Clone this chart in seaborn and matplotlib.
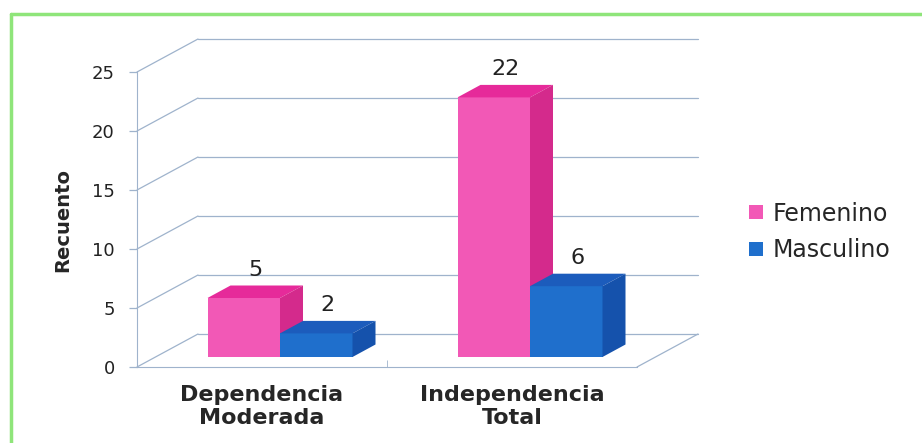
import pandas as pd
import matplotlib.pyplot as plt
import seaborn as sns
from matplotlib.patches import Polygon, Patch
from matplotlib.lines import Line2D
from matplotlib.transforms import ScaledTranslation

# -------------------------------
# Data
# -------------------------------
categorias = ["Dependencia\nModerada", "Independencia\nTotal"]
sexos = ["Femenino", "Masculino"]
femenino = [5, 22]
masculino = [2, 6]

df = pd.DataFrame({
    "Categoria": categorias * 2,
    "Sexo": [sexos[0]] * 2 + [sexos[1]] * 2,
    "Recuento": femenino + masculino,
})

colores = {"Femenino": "#f258b6", "Masculino": "#1f6fcc"}
top_col = {"Femenino": "#e62a9a", "Masculino": "#1c5cbc"}
side_col = {"Femenino": "#d42a8c", "Masculino": "#1552ac"}

sns.set_style("white")
plt.rcParams["font.family"] = ["DejaVu Sans"]

W, H = 922, 443
fig = plt.figure(figsize=(W / 100, H / 100), dpi=100)

# axes = front plane of the 3D box (pixel layout)
ax_l, ax_r, ax_b, ax_t = 137, 637, 367, 72
ax = fig.add_axes([ax_l / W, (H - ax_b) / H, (ax_r - ax_l) / W, (ax_b - ax_t) / H])

px_x = (ax_r - ax_l) / 2.0   # pixels per x unit
px_y = (ax_b - ax_t) / 25.0  # pixels per y unit

# back wall offset and bar depth (pixels -> data)
wall_dx, wall_dy = 61 / px_x, 33 / px_y
bar_dx, bar_dy = 23 / px_x, 12.5 / px_y
grid_col = "#9fb3cc"

# -------------------------------
# Back wall grid + floor
# -------------------------------
for v in range(0, 26, 5):
    ax.plot([-0.5 + wall_dx, 1.5 + wall_dx], [v + wall_dy, v + wall_dy],
            color=grid_col, lw=0.9, clip_on=False, zorder=0)
    ax.plot([-0.5, -0.5 + wall_dx], [v, v + wall_dy],
            color=grid_col, lw=0.9, clip_on=False, zorder=0)
ax.plot([1.5, 1.5 + wall_dx], [0, wall_dy], color=grid_col, lw=0.9, clip_on=False, zorder=0)

# -------------------------------
# Bars
# -------------------------------
sns.barplot(data=df, x="Categoria", y="Recuento", hue="Sexo", hue_order=sexos,
            order=categorias, palette=colores, saturation=1, width=0.58,
            legend=False, ax=ax, zorder=2)
ax.set_xlim(-0.5, 1.5)
ax.set_ylim(0, 25)

# bars sit a bit into the depth of the box
shift = ScaledTranslation(18 / 100, 10 / 100, fig.dpi_scale_trans)
tr = ax.transData + shift

bars = []
for cont, sexo in zip(ax.containers, sexos):
    for p in cont.patches:
        bars.append((p, sexo))
bars.sort(key=lambda b: b[0].get_x())

z = 2
for p, sexo in bars:
    x, w, h = p.get_x(), p.get_width(), p.get_height()
    p.set_transform(tr)
    p.set_edgecolor("none")
    p.set_clip_on(False)
    p.set_zorder(z)
    top = Polygon([(x, h), (x + w, h), (x + w + bar_dx, h + bar_dy), (x + bar_dx, h + bar_dy)],
                  closed=True, facecolor=top_col[sexo], edgecolor="none",
                  transform=tr, clip_on=False, zorder=z)
    side = Polygon([(x + w, 0), (x + w + bar_dx, bar_dy), (x + w + bar_dx, h + bar_dy), (x + w, h)],
                   closed=True, facecolor=side_col[sexo], edgecolor="none",
                   transform=tr, clip_on=False, zorder=z)
    ax.add_patch(top)
    ax.add_patch(side)
    ax.text(x + w / 2 + bar_dx / 2, h + bar_dy + 0.5, f"{int(h)}", transform=tr,
            ha="center", va="bottom", fontsize=16, color="#222222", zorder=10)
    z += 1

# -------------------------------
# Axes styling
# -------------------------------
for s in ["top", "right"]:
    ax.spines[s].set_visible(False)
ax.spines["left"].set_color(grid_col)
ax.spines["bottom"].set_color(grid_col)
ax.set_yticks(range(0, 26, 5))
ax.tick_params(axis="y", length=6, width=0.9, color=grid_col, pad=10,
               labelsize=13, labelcolor="#222222", left=True)
ax.tick_params(axis="x", length=0, pad=13, labelsize=16)
ax.set_xticks([0, 1])
ax.set_xticklabels(categorias, fontweight="bold", linespacing=1.2)
ax.set_xticks([0.5], minor=True)
ax.tick_params(axis="x", which="minor", length=5, direction="in", color=grid_col, bottom=True)
ax.set_xlabel("")
ax.set_ylabel("Recuento", fontsize=14, fontweight="bold", labelpad=14)

# -------------------------------
# Legend
# -------------------------------
handles = [Patch(facecolor=colores[s], edgecolor="none", label=s) for s in sexos]
fig.legend(handles=handles, loc="center left", bbox_to_anchor=(728 / W, 1 - 232 / H),
           frameon=False, fontsize=17, handlelength=0.6, handleheight=0.5,
           handletextpad=0.4, labelspacing=0.55)

# green frame (left and top)
fig.add_artist(Line2D([11 / W, 11 / W], [0, 1 - 14 / H], color="#8fe57a", lw=2.5))
fig.add_artist(Line2D([11 / W, 1], [1 - 14 / H, 1 - 14 / H], color="#8fe57a", lw=2.5))

fig.savefig("out.png", dpi=100)
plt.close(fig)
